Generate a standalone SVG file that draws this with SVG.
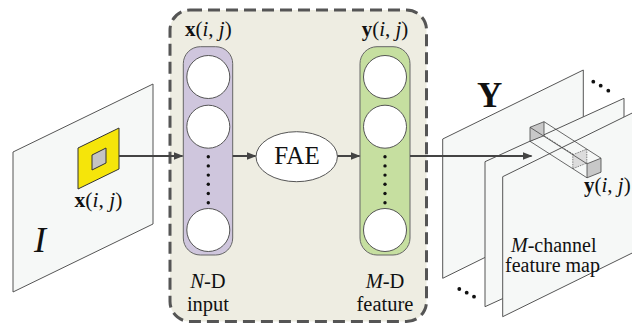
<svg xmlns="http://www.w3.org/2000/svg" width="632" height="328" viewBox="0 0 632 328">
  <defs>
    <marker id="arrow" markerWidth="10" markerHeight="8" refX="9" refY="4" orient="auto" markerUnits="userSpaceOnUse">
      <path d="M0,0 L10,4 L0,8 Z" fill="#444"/>
    </marker>
    <style>
      .plane { fill: #f6f8f7; stroke: #555; stroke-width: 1; }
      .col-circle { fill: #fff; stroke: #555; stroke-width: 1; }
      .dot { fill: #111; }
      .conn { stroke: #444; stroke-width: 2; fill: none; marker-end: url(#arrow); }
      text { font-family: 'Liberation Serif', 'DejaVu Serif', serif; fill: #111; }
      .edge { fill: none; stroke: #444; stroke-width: 0.8; }
    </style>
  </defs>

  <rect width="632" height="328" fill="#fff"/>

  <!-- input image plane -->
  <g id="image-plane">
    <polygon class="plane" points="13,152 153,84 153,224 13,292"/>
    <polygon points="78,148 119,128 119,169 78,189" fill="#f5e50a" stroke="#333" stroke-width="1"/>
    <polygon points="92,155 106,148 106,163 92,170" fill="#c4c4c4" stroke="#333" stroke-width="1"/>
    <text font-family="Liberation Serif, serif" x="98.5" y="207" font-size="21.5" text-anchor="middle"><tspan font-weight="bold">x</tspan>(<tspan font-style="italic">i</tspan>, <tspan font-style="italic">j</tspan>)</text>
    <text font-family="Liberation Serif, serif" x="40" y="252" font-size="36" font-style="italic" text-anchor="middle">I</text>
  </g>

  <!-- dashed frame -->
  <g id="frame">
    <rect x="170" y="10" width="256.5" height="311.5" rx="20" fill="#eeede2" stroke="#555" stroke-width="3" stroke-dasharray="12,6"/>
  </g>

  <!-- N-D input column -->
  <g id="input-column">
    <text font-family="Liberation Serif, serif" x="208.3" y="36" font-size="21" text-anchor="middle"><tspan font-weight="bold">x</tspan>(<tspan font-style="italic">i</tspan>, <tspan font-style="italic">j</tspan>)</text>
    <rect x="183.3" y="46.7" width="49.4" height="208.3" rx="17" fill="#cfc6dd" stroke="#666" stroke-width="1"/>
    <circle class="col-circle" cx="208.3" cy="77" r="21.5"/>
    <circle class="col-circle" cx="208.3" cy="126.7" r="21.5"/>
    <circle class="col-circle" cx="208.3" cy="230" r="21.5"/>
    <circle class="dot" cx="208.3" cy="156.7" r="1.7"/>
    <circle class="dot" cx="208.3" cy="165.9" r="1.7"/>
    <circle class="dot" cx="208.3" cy="175.1" r="1.7"/>
    <circle class="dot" cx="208.3" cy="184.3" r="1.7"/>
    <circle class="dot" cx="208.3" cy="193.5" r="1.7"/>
    <circle class="dot" cx="208.3" cy="202.7" r="1.7"/>
    <text font-family="Liberation Serif, serif" x="208" y="288" font-size="20.5" text-anchor="middle"><tspan font-style="italic">N</tspan>-D</text>
    <text font-family="Liberation Serif, serif" x="208" y="311" font-size="20.5" text-anchor="middle">input</text>
  </g>

  <!-- FAE -->
  <g id="fae">
    <ellipse cx="296.7" cy="156.7" rx="40.7" ry="25" fill="#fff" stroke="#555" stroke-width="1"/>
    <text font-family="Liberation Serif, serif" x="297" y="164" font-size="25" text-anchor="middle">FAE</text>
  </g>

  <!-- M-D feature column -->
  <g id="feature-column">
    <text font-family="Liberation Serif, serif" x="385" y="36" font-size="21" text-anchor="middle"><tspan font-weight="bold">y</tspan>(<tspan font-style="italic">i</tspan>, <tspan font-style="italic">j</tspan>)</text>
    <rect x="360" y="46.7" width="50" height="208.3" rx="17" fill="#c6dfa0" stroke="#666" stroke-width="1"/>
    <circle class="col-circle" cx="385" cy="77" r="21.5"/>
    <circle class="col-circle" cx="385" cy="126.7" r="21.5"/>
    <circle class="col-circle" cx="385" cy="230" r="21.5"/>
    <circle class="dot" cx="385" cy="156.7" r="1.7"/>
    <circle class="dot" cx="385" cy="165.9" r="1.7"/>
    <circle class="dot" cx="385" cy="175.1" r="1.7"/>
    <circle class="dot" cx="385" cy="184.3" r="1.7"/>
    <circle class="dot" cx="385" cy="193.5" r="1.7"/>
    <circle class="dot" cx="385" cy="202.7" r="1.7"/>
    <text font-family="Liberation Serif, serif" x="385" y="288" font-size="20.5" text-anchor="middle"><tspan font-style="italic">M</tspan>-D</text>
    <text font-family="Liberation Serif, serif" x="385" y="311" font-size="20.5" text-anchor="middle">feature</text>
  </g>

  <!-- M-channel feature map stack -->
  <g id="feature-map">
    <polygon class="plane" points="442.7,139 583.3,70 583.3,209 442.7,278.3"/>
    <polygon class="plane" points="485,161.7 624,98.3 624,243 485,306.7"/>
    <polygon class="plane" points="502.7,176.7 643,107.7 643,247.7 502.7,316.7"/>
    <text font-family="Liberation Serif, serif" x="489.7" y="107" font-size="35" font-weight="bold" text-anchor="middle">Y</text>
    <circle class="dot" cx="593.3" cy="81.7" r="1.9"/>
    <circle class="dot" cx="600.7" cy="85.7" r="1.9"/>
    <circle class="dot" cx="608.3" cy="90.7" r="1.9"/>
    <circle class="dot" cx="459.3" cy="289" r="1.9"/>
    <circle class="dot" cx="466.7" cy="292.7" r="1.9"/>
    <circle class="dot" cx="474" cy="296.7" r="1.9"/>
    <text font-family="Liberation Serif, serif" x="584" y="192" font-size="21"><tspan font-weight="bold">y</tspan>(<tspan font-style="italic">i</tspan>, <tspan font-style="italic">j</tspan>)</text>
    <text font-family="Liberation Serif, serif" x="511" y="252" font-size="20"><tspan font-style="italic">M</tspan>-channel</text>
    <text font-family="Liberation Serif, serif" x="505" y="272" font-size="20">feature map</text>
  </g>

  <!-- connectors -->
  <g id="connectors">
    <line class="conn" x1="119" y1="156" x2="182.5" y2="156"/>
    <line class="conn" x1="232.7" y1="156" x2="255.5" y2="156"/>
    <line class="conn" x1="337.4" y1="156" x2="359.5" y2="156"/>
    <line class="conn" x1="410" y1="156" x2="531.5" y2="156"/>
  </g>

  <!-- pixel feature vector cuboid -->
  <g id="feature-vector">
    <polygon points="530,127.3 544,121.7 544,135.7 530,141.3" fill="#c8c8c8" stroke="#444" stroke-width="0.8"/>
    <line class="edge" x1="544" y1="135.7" x2="573" y2="154.2" stroke-dasharray="2,1"/>
    <polygon points="572.8,154.7 586.8,149.1 586.8,163.1 572.8,168.7" fill="#dcdcdc" stroke="#555" stroke-width="0.7" stroke-dasharray="1.5,1"/>
    <line class="edge" x1="544" y1="121.7" x2="601" y2="158.2"/>
    <line class="edge" x1="530" y1="127.3" x2="587" y2="163.8"/>
    <line class="edge" x1="530" y1="141.3" x2="587" y2="177.8"/>
    <polygon points="587,163.8 601,158.2 601,172.2 587,177.8" fill="#c8c8c8" stroke="#444" stroke-width="0.8"/>
  </g>
</svg>
